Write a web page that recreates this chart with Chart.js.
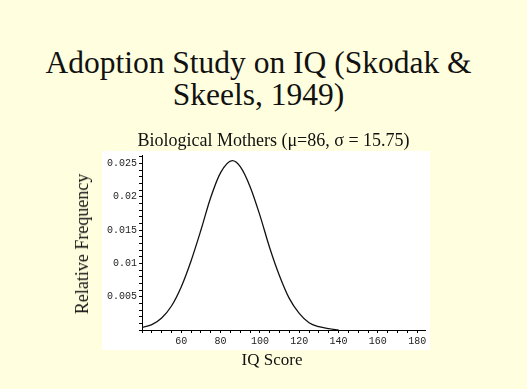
<!DOCTYPE html>
<html>
<head>
<meta charset="utf-8">
<script src="https://cdn.jsdelivr.net/npm/chart.js@4.4.0/dist/chart.umd.min.js"></script>
<style>
  html, body { margin: 0; padding: 0; background: #FFFFDF; }
  body { width: 527px; height: 389px; position: relative; overflow: hidden; }
  .serif { font-family: 'Liberation Serif', 'DejaVu Serif', serif; color: #111; position: absolute; white-space: nowrap; }
  #title { top: 47px; left: -5px; width: 527px; text-align: center; font-size: 31.5px; line-height: 32px; }
  #subtitle { top: 130px; left: 0; width: 547px; text-align: center; font-size: 18px; line-height: 20px; z-index: 2; }
  #ytitle { left: 82px; top: 244px; font-size: 18px; line-height: 20px; transform: translate(-50%, -50%) rotate(-90deg); z-index: 2; }
  #xtitle { left: 272px; top: 360px; font-size: 17px; line-height: 20px; transform: translate(-50%, -50%); z-index: 2; }
  #chart { position: absolute; left: 0; top: 0; z-index: 1; }
</style>
</head>
<body>
<div id="title" class="serif">Adoption Study on IQ (Skodak &amp;<br>Skeels, 1949)</div>
<canvas id="chart" width="527" height="389"></canvas>
<div id="subtitle" class="serif">Biological Mothers (&mu;=86, &sigma; = 15.75)</div>
<div id="ytitle" class="serif">Relative Frequency</div>
<div id="xtitle" class="serif">IQ Score</div>
<script>
// values
const iqScores = [40, 45, 50, 55, 60, 65, 70, 75, 80, 86, 90, 95, 100, 105, 110, 115, 120, 125, 130, 135, 140];
const relFreq = [0.0004, 0.0008, 0.0018, 0.0036, 0.0065, 0.0104, 0.0150, 0.0199, 0.0236, 0.0254, 0.0245, 0.0215, 0.0172, 0.0123, 0.0081, 0.0047, 0.0025, 0.0011, 0.0005, 0.0002, 0.0000];

const xTicks = [40, 45, 50, 55, 60, 65, 70, 75, 80, 85, 90, 95, 100, 105, 110, 115, 120, 125, 130, 135, 140, 145, 150, 155, 160, 165, 170, 175, 180];
const xLabels = [60, 80, 100, 120, 140, 160, 180];
const yTicks = [0, 0.001, 0.002, 0.003, 0.004, 0.005, 0.006, 0.007, 0.008, 0.009, 0.010, 0.011, 0.012, 0.013, 0.014, 0.015, 0.016, 0.017, 0.018, 0.019, 0.020, 0.021, 0.022, 0.023, 0.024, 0.025, 0.026];
const yLabels = ['0.005', '0.01', '0.015', '0.02', '0.025'];

const mono = "'Liberation Mono', 'DejaVu Sans Mono', monospace";

// white panel behind the plot
const panel = {
  id: 'panel',
  beforeDraw(chart) {
    const a = chart.chartArea;
    const ctx = chart.ctx;
    ctx.save();
    ctx.fillStyle = '#ffffff';
    ctx.fillRect(a.left - 40, a.top - 4, a.right - a.left + 45, a.bottom - a.top + 24);
    ctx.restore();
  }
};

const ctx = document.getElementById('chart').getContext('2d');
new Chart(ctx, {
  type: 'line',
  data: {
    datasets: [{
      data: iqScores.map((x, i) => ({ x: x, y: relFreq[i] })),
      borderColor: '#111',
      borderWidth: 1.3,
      pointRadius: 0,
      cubicInterpolationMode: 'monotone',
      fill: false
    }]
  },
  options: {
    responsive: false,
    animation: false,
    layout: { padding: { left: 62, right: 102, top: 155, bottom: 19 } },
    plugins: {
      legend: { display: false },
      tooltip: { enabled: false }
    },
    scales: {
      x: {
        type: 'linear',
        min: 40,
        max: 184,
        afterBuildTicks: s => { s.ticks = xTicks.map(v => ({ value: v })); },
        afterFit: s => { s.height = 40; },
        ticks: {
          autoSkip: false,
          maxRotation: 0,
          padding: 2,
          color: '#222',
          font: { family: mono, size: 10 },
          callback: v => xLabels.includes(v) ? String(v) : ''
        },
        grid: { drawOnChartArea: false, tickLength: 3, color: '#000', tickColor: '#000' },
        border: { display: true, color: '#000', width: 1 }
      },
      y: {
        type: 'linear',
        min: 0,
        max: 0.02625,
        afterBuildTicks: s => { s.ticks = yTicks.map(v => ({ value: v })); },
        afterFit: s => { s.width = 80; },
        ticks: {
          autoSkip: false,
          padding: 2,
          color: '#222',
          font: { family: mono, size: 10 },
          callback: v => {
            const t = parseFloat(v.toFixed(3)).toString();
            return yLabels.includes(t) ? t : '';
          }
        },
        grid: { drawOnChartArea: false, tickLength: 3, color: '#000', tickColor: '#000' },
        border: { display: true, color: '#000', width: 1 }
      }
    }
  },
  plugins: [panel]
});
</script>
</body>
</html>
